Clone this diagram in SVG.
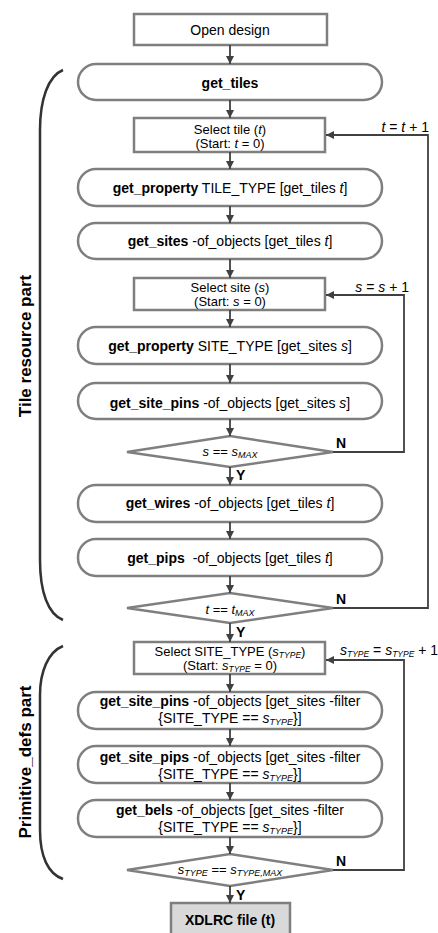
<svg xmlns="http://www.w3.org/2000/svg" width="438" height="933" viewBox="0 0 438 933">
<defs>
<marker id="ah" markerUnits="userSpaceOnUse" markerWidth="9" markerHeight="9" refX="8" refY="4.5" orient="auto">
<path d="M0,0.5 L8,4.5 L0,8.5 z" fill="#404040"/>
</marker>
<style>
.box{fill:#fff;stroke:#7f7f7f;stroke-width:2.5}
.gray{fill:#d9d9d9;stroke:#7f7f7f;stroke-width:2.5}
.t{font-family:"Liberation Sans",Arial,sans-serif;font-size:14px;fill:#000;text-anchor:middle}
.d{font-size:13px}
.s13{font-size:13px}
.b{font-weight:bold}
.i{font-style:italic}
.lbl{font-family:"Liberation Sans",Arial,sans-serif;font-size:14px;fill:#000}
.yn{font-family:"Liberation Sans",Arial,sans-serif;font-size:14px;font-weight:bold;fill:#000}
.side{font-family:"Liberation Sans",Arial,sans-serif;font-size:17px;font-weight:bold;fill:#000;text-anchor:middle}
.c{fill:none;stroke:#404040;stroke-width:1.8}
.a{marker-end:url(#ah)}
.br{fill:none;stroke:#333;stroke-width:2.5}
</style>
</defs>

<g id="open-design"><rect class="box" x="134" y="14" width="193" height="31"/><text class="t" x="230" y="35">Open design</text></g>
<g id="get-tiles"><rect class="box" x="78" y="64" width="304" height="36" rx="18"/><text class="t b" x="230" y="88">get_tiles</text></g>
<g id="select-tile"><rect class="box" x="134" y="118" width="191" height="34"/><text class="t s13" x="230" y="134">Select tile (<tspan class="i">t</tspan>)</text><text class="t s13" x="230" y="148">(Start: <tspan class="i">t</tspan> = 0)</text></g>
<g id="get-property-tile"><rect class="box" x="78" y="169" width="304" height="37" rx="18"/><text class="t" x="230" y="193"><tspan class="b">get_property</tspan> TILE_TYPE [get_tiles <tspan class="i">t</tspan>]</text></g>
<g id="get-sites"><rect class="box" x="78" y="223" width="304" height="36" rx="18"/><text class="t" x="230" y="246"><tspan class="b">get_sites</tspan> -of_objects [get_tiles <tspan class="i">t</tspan>]</text></g>
<g id="select-site"><rect class="box" x="134" y="278" width="191" height="32"/><text class="t s13" x="230" y="292">Select site (<tspan class="i">s</tspan>)</text><text class="t s13" x="230" y="306">(Start: <tspan class="i">s</tspan> = 0)</text></g>
<g id="get-property-site"><rect class="box" x="78" y="327" width="304" height="37" rx="18"/><text class="t" x="230" y="351"><tspan class="b">get_property</tspan> SITE_TYPE [get_sites <tspan class="i">s</tspan>]</text></g>
<g id="get-site-pins"><rect class="box" x="78" y="383" width="304" height="36" rx="18"/><text class="t" x="230" y="408"><tspan class="b">get_site_pins</tspan> -of_objects [get_sites <tspan class="i">s</tspan>]</text></g>
<g id="dec-s"><polygon class="box" points="127,452 230,436 333,452 230,467"/><text class="t d" x="230" y="456"><tspan class="i">s</tspan> == <tspan class="i">s</tspan><tspan class="i" font-size="9" dy="2">MAX</tspan></text></g>
<g id="get-wires"><rect class="box" x="78" y="485" width="304" height="37" rx="18"/><text class="t" x="230" y="508"><tspan class="b">get_wires</tspan> -of_objects [get_tiles <tspan class="i">t</tspan>]</text></g>
<g id="get-pips"><rect class="box" x="78" y="539" width="304" height="37" rx="18"/><text class="t" x="230" y="563"><tspan class="b">get_pips</tspan>&#160; -of_objects [get_tiles <tspan class="i">t</tspan>]</text></g>
<g id="dec-t"><polygon class="box" points="127,608 230,593 333,608 230,623"/><text class="t d" x="230" y="614"><tspan class="i">t</tspan> == <tspan class="i">t</tspan><tspan class="i" font-size="9" dy="2">MAX</tspan></text></g>
<g id="select-site-type"><rect class="box" x="134" y="642" width="191" height="32"/><text class="t s13" x="230" y="656">Select SITE_TYPE (<tspan class="i">s</tspan><tspan class="i" font-size="8.5" dy="1.5">TYPE</tspan><tspan dy="-1.5">)</tspan></text><text class="t s13" x="230" y="670">(Start: <tspan class="i">s</tspan><tspan class="i" font-size="8.5" dy="1.5">TYPE</tspan><tspan dy="-1.5"> = 0)</tspan></text></g>
<g id="get-site-pins-filter"><rect class="box" x="78" y="692" width="304" height="37" rx="18"/><text class="t" x="230" y="706"><tspan class="b">get_site_pins</tspan> -of_objects [get_sites -filter</text><text class="t" x="230" y="723">{SITE_TYPE == <tspan class="i">s</tspan><tspan class="i" font-size="9" dy="2">TYPE</tspan><tspan dy="-2">}]</tspan></text></g>
<g id="get-site-pips"><rect class="box" x="78" y="746" width="304" height="37" rx="18"/><text class="t" x="230" y="762"><tspan class="b">get_site_pips</tspan> -of_objects [get_sites -filter</text><text class="t" x="230" y="779">{SITE_TYPE == <tspan class="i">s</tspan><tspan class="i" font-size="9" dy="2">TYPE</tspan><tspan dy="-2">}]</tspan></text></g>
<g id="get-bels"><rect class="box" x="78" y="800" width="304" height="37" rx="18"/><text class="t" x="230" y="815"><tspan class="b">get_bels</tspan> -of_objects [get_sites -filter</text><text class="t" x="230" y="832">{SITE_TYPE == <tspan class="i">s</tspan><tspan class="i" font-size="9" dy="2">TYPE</tspan><tspan dy="-2">}]</tspan></text></g>
<g id="dec-stype"><polygon class="box" points="127,870 230,854 333,870 230,886"/><text class="t d" x="230" y="874"><tspan class="i">s</tspan><tspan class="i" font-size="9" dy="2">TYPE</tspan><tspan dy="-2"> == </tspan><tspan class="i">s</tspan><tspan class="i" font-size="9" dy="2">TYPE,MAX</tspan></text></g>
<g id="xdlrc"><rect class="gray" x="171" y="903" width="119" height="34"/><text class="t b" x="230" y="925">XDLRC file (t)</text></g>

<g id="connectors">
<line class="c a" x1="230" y1="45" x2="230" y2="64"/>
<line class="c a" x1="230" y1="100" x2="230" y2="118"/>
<line class="c a" x1="230" y1="152" x2="230" y2="169"/>
<line class="c a" x1="230" y1="206" x2="230" y2="223"/>
<line class="c a" x1="230" y1="259" x2="230" y2="278"/>
<line class="c a" x1="230" y1="310" x2="230" y2="327"/>
<line class="c a" x1="230" y1="364" x2="230" y2="383"/>
<line class="c a" x1="230" y1="419" x2="230" y2="436"/>
<line class="c a" x1="230" y1="467" x2="230" y2="485"/>
<line class="c a" x1="230" y1="522" x2="230" y2="539"/>
<line class="c a" x1="230" y1="576" x2="230" y2="593"/>
<line class="c a" x1="230" y1="623" x2="230" y2="642"/>
<line class="c a" x1="230" y1="674" x2="230" y2="692"/>
<line class="c a" x1="230" y1="729" x2="230" y2="746"/>
<line class="c a" x1="230" y1="783" x2="230" y2="800"/>
<line class="c a" x1="230" y1="837" x2="230" y2="854"/>
<line class="c a" x1="230" y1="886" x2="230" y2="903"/>
<polyline class="c a" points="333,452 404,452 404,295 326,295"/>
<polyline class="c a" points="333,608 428,608 428,135 326,135"/>
<polyline class="c a" points="333,870 404,870 404,660 326,660"/>
<text class="yn" x="236" y="480">Y</text>
<text class="yn" x="336" y="448">N</text>
<text class="yn" x="236" y="637">Y</text>
<text class="yn" x="336" y="604">N</text>
<text class="yn" x="236" y="900">Y</text>
<text class="yn" x="336" y="866">N</text>
<text class="lbl" x="429" y="132" text-anchor="end"><tspan class="i">t</tspan> = <tspan class="i">t</tspan> + 1</text>
<text class="lbl" x="409" y="292" text-anchor="end"><tspan class="i">s</tspan> = <tspan class="i">s</tspan> + 1</text>
<text class="lbl s13" x="340" y="655"><tspan class="i">s</tspan><tspan class="i" font-size="8.5" dy="1.5">TYPE</tspan><tspan dy="-1.5"> = </tspan><tspan class="i">s</tspan><tspan class="i" font-size="8.5" dy="1.5">TYPE</tspan><tspan dy="-1.5"> + 1</tspan></text>
</g>

<g id="tile-resource-part">
<path class="br" d="M63,70 C48,76 40,100 40,130 L40,560 C40,592 48,614 63,620"/>
<text class="side" transform="translate(31,346) rotate(-90)">Tile resource part</text>
</g>
<g id="primitive-defs-part">
<path class="br" d="M63,646 C48,652 40,672 40,695 L40,830 C40,856 48,874 63,879"/>
<text class="side" transform="translate(31,762) rotate(-90)">Primitive_defs part</text>
</g>
</svg>
